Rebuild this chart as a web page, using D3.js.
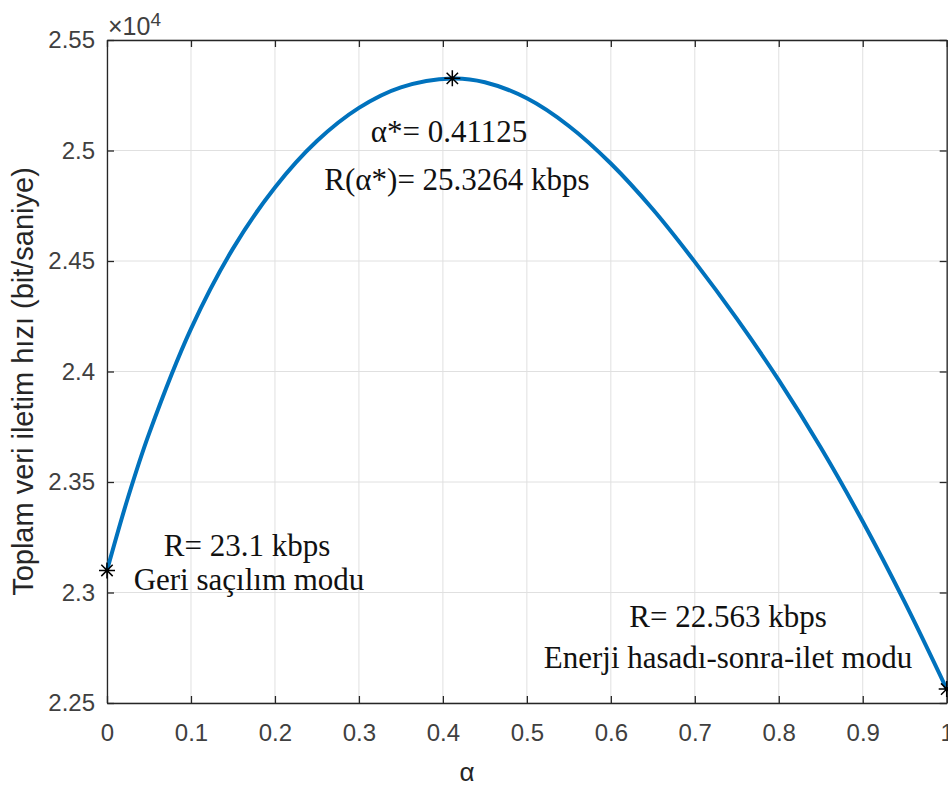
<!DOCTYPE html>
<html>

<head>
    <meta charset="utf-8">
    <script src="https://d3js.org/d3.v7.min.js"></script>
</head>

<body style="margin: 0; background: rgb(255, 255, 255)">

    <svg id="chart"></svg>

    <script>

        // values (alpha vs total rate, bit/s)
        var alphaVals = [0, 0.025, 0.05, 0.1, 0.15, 0.2, 0.25, 0.3, 0.35, 0.41125,
            0.45, 0.5, 0.55, 0.6, 0.65, 0.7, 0.75, 0.8, 0.85, 0.9, 0.95, 1.0];
        var rateVals = [23100, 23430, 23718, 24193, 24556, 24833, 25043, 25193, 25286, 25326,
            25309, 25236, 25111, 24941, 24734, 24496, 24239, 23961, 23656, 23321, 22956, 22563];

        // marked points
        var markAlpha = [0, 0.41125, 1];
        var markRate = [23100, 25326.4, 22563];

        var xTicks = [0, 0.1, 0.2, 0.3, 0.4, 0.5, 0.6, 0.7, 0.8, 0.9, 1];
        var yTicks = [22500, 23000, 23500, 24000, 24500, 25000, 25500];
        var yTickLabels = ["2.25", "2.3", "2.35", "2.4", "2.45", "2.5", "2.55"];

        var margin = { top: 40, right: 1.3, bottom: 86, left: 107 },
            width = 948 - margin.left - margin.right,
            height = 789 - margin.top - margin.bottom;

        var svg = d3.select("#chart")
            .attr("width", 948)
            .attr("height", 789)
            .append("g")
            .attr("transform", "translate(" + margin.left + "," + margin.top + ")");

        var x = d3.scaleLinear().domain([0, 1]).range([0, width]);
        var y = d3.scaleLinear().domain([22500, 25500]).range([height, 0]);

        var axisColor = "#262626";
        var tickFont = "Liberation Sans, Arial, sans-serif";
        var serif = "Liberation Serif, Times New Roman, serif";

        // grid
        svg.append("g")
            .selectAll("line")
            .data(xTicks)
            .join("line")
            .attr("x1", d => x(d)).attr("x2", d => x(d))
            .attr("y1", 0).attr("y2", height)
            .style("stroke", "#e0e0e0").style("stroke-width", 1)
        svg.append("g")
            .selectAll("line")
            .data(yTicks)
            .join("line")
            .attr("x1", 0).attr("x2", width)
            .attr("y1", d => y(d)).attr("y2", d => y(d))
            .style("stroke", "#e0e0e0").style("stroke-width", 1)

        // axes (MATLAB style: ticks inside, box on)
        var xAxis = svg.append("g")
            .attr("transform", "translate(0," + height + ")")
            .call(d3.axisBottom(x).tickValues(xTicks).tickSizeInner(-7).tickSizeOuter(0)
                .tickFormat(d3.format("")))
        var yAxis = svg.append("g")
            .call(d3.axisLeft(y).tickValues(yTicks).tickSizeInner(-7).tickSizeOuter(0)
                .tickFormat((d, i) => yTickLabels[i]))
        svg.append("g")
            .call(d3.axisTop(x).tickValues(xTicks).tickSizeInner(-7).tickSizeOuter(0).tickFormat(""))
        svg.append("g")
            .attr("transform", "translate(" + width + ",0)")
            .call(d3.axisRight(y).tickValues(yTicks).tickSizeInner(-7).tickSizeOuter(0).tickFormat(""))

        svg.selectAll(".domain").style("stroke", axisColor).style("stroke-width", 1.3)
        svg.selectAll(".tick line").style("stroke", axisColor).style("stroke-width", 1.3)

        xAxis.selectAll("text")
            .attr("y", 21)
            .style("font-family", tickFont).style("font-size", "24px").style("fill", "#404040")
        yAxis.selectAll("text")
            .attr("x", -12)
            .style("font-family", tickFont).style("font-size", "24px").style("fill", "#404040")

        // curve
        svg.append("path")
            .datum(alphaVals.map((a, i) => [a, rateVals[i]]))
            .attr("fill", "none")
            .style("stroke", "#0072BD")
            .style("stroke-width", 4)
            .attr("d", d3.line()
                .x(d => x(d[0]))
                .y(d => y(d[1]))
                .curve(d3.curveCatmullRom.alpha(0.5)))

        // star markers
        var star = "M-8,0L8,0M0,-8L0,8M-5.7,-5.7L5.7,5.7M-5.7,5.7L5.7,-5.7";
        svg.append("g")
            .selectAll("path")
            .data(markAlpha)
            .join("path")
            .attr("transform", (d, i) => "translate(" + x(d) + "," + y(markRate[i]) + ")")
            .attr("d", star)
            .style("stroke", "black").style("stroke-width", 1.5).attr("fill", "none")

        // exponent
        var expo = svg.append("text").attr("x", 1).attr("y", -5)
            .style("font-family", tickFont).style("font-size", "25px").style("fill", "#404040")
        expo.append("tspan").text("\u00d710")
        expo.append("tspan").attr("dy", -9).style("font-size", "19px").text("4")

        // axis labels
        svg.append("text")
            .attr("transform", "translate(-74," + (height / 2 + 10) + ") rotate(-90)")
            .attr("text-anchor", "middle")
            .style("font-family", tickFont).style("font-size", "29px").style("fill", "#262626")
            .text("Toplam veri iletim hızı (bit/saniye)")
        svg.append("text")
            .attr("x", 360).attr("y", 741)
            .attr("text-anchor", "middle")
            .style("font-family", tickFont).style("font-size", "26px").style("fill", "#262626")
            .text("α")

        // annotations
        var notes = [
            { t: "α*= 0.41125", x: 342, y: 102 },
            { t: "R(α*)= 25.3264 kbps", x: 350, y: 150 },
            { t: "R= 23.1 kbps", x: 140, y: 516 },
            { t: "Geri saçılım modu", x: 142, y: 550 },
            { t: "R= 22.563 kbps", x: 621, y: 587 },
            { t: "Enerji hasadı-sonra-ilet modu", x: 621, y: 628 }
        ];
        svg.append("g")
            .selectAll("text")
            .data(notes)
            .join("text")
            .attr("x", d => d.x).attr("y", d => d.y)
            .attr("text-anchor", "middle")
            .style("font-family", serif).style("font-size", "31px").style("fill", "#111")
            .text(d => d.t)

    </script>
</body>

</html>
